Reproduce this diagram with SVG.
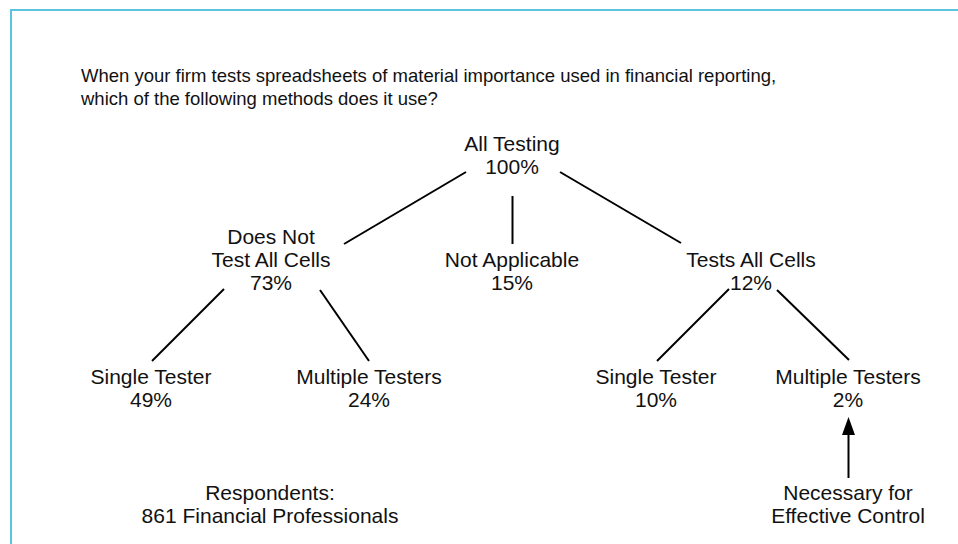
<svg xmlns="http://www.w3.org/2000/svg" width="958" height="544" viewBox="0 0 958 544">
<style>
text{font-family:"Liberation Sans",Arial,sans-serif;font-size:21px;fill:#111;}
.t{font-size:18.5px;}
.c{text-anchor:middle;}
.ln{stroke:#000;stroke-width:2;fill:none;}
.ah{fill:#000;}
</style>
<rect width="958" height="544" fill="#fff"/>
<path d="M11 544 V10 H958" fill="none" stroke="#5BC4DC" stroke-width="2"/>
<g id="title">
<text class="t" x="81" y="82">When your firm tests spreadsheets of material importance used in financial reporting,</text>
<text class="t" x="81" y="105">which of the following methods does it use?</text>
</g>
<g id="connectors">
<line class="ln" x1="466" y1="172" x2="344" y2="244"/>
<line class="ln" x1="512.5" y1="196" x2="512.5" y2="244"/>
<line class="ln" x1="560" y1="172" x2="681" y2="243"/>
<line class="ln" x1="224" y1="289" x2="152" y2="361"/>
<line class="ln" x1="320" y1="290" x2="369" y2="361"/>
<line class="ln" x1="729" y1="289" x2="657" y2="361"/>
<line class="ln" x1="777" y1="290" x2="849" y2="360"/>
<line class="ln" x1="848.5" y1="478" x2="848.5" y2="432"/>
<polygon class="ah" points="848.5,417 842,435 855,435"/>
</g>
<g id="n-all"><text class="c" x="512" y="151">All Testing</text><text class="c" x="512" y="174">100%</text></g>
<g id="n-doesnot"><text class="c" x="271" y="244">Does Not</text><text class="c" x="271" y="267">Test All Cells</text><text class="c" x="271" y="290">73%</text></g>
<g id="n-na"><text class="c" x="512" y="267">Not Applicable</text><text class="c" x="512" y="290">15%</text></g>
<g id="n-tests"><text class="c" x="751" y="267">Tests All Cells</text><text class="c" x="751" y="290">12%</text></g>
<g id="n-single1"><text class="c" x="151" y="384">Single Tester</text><text class="c" x="151" y="407">49%</text></g>
<g id="n-multi1"><text class="c" x="369" y="384">Multiple Testers</text><text class="c" x="369" y="407">24%</text></g>
<g id="n-single2"><text class="c" x="656" y="384">Single Tester</text><text class="c" x="656" y="407">10%</text></g>
<g id="n-multi2"><text class="c" x="848" y="384">Multiple Testers</text><text class="c" x="848" y="407">2%</text></g>
<g id="n-resp"><text class="c" x="270" y="500">Respondents:</text><text class="c" x="270" y="523">861 Financial Professionals</text></g>
<g id="n-nec"><text class="c" x="848" y="500">Necessary for</text><text class="c" x="848" y="523">Effective Control</text></g>
</svg>
